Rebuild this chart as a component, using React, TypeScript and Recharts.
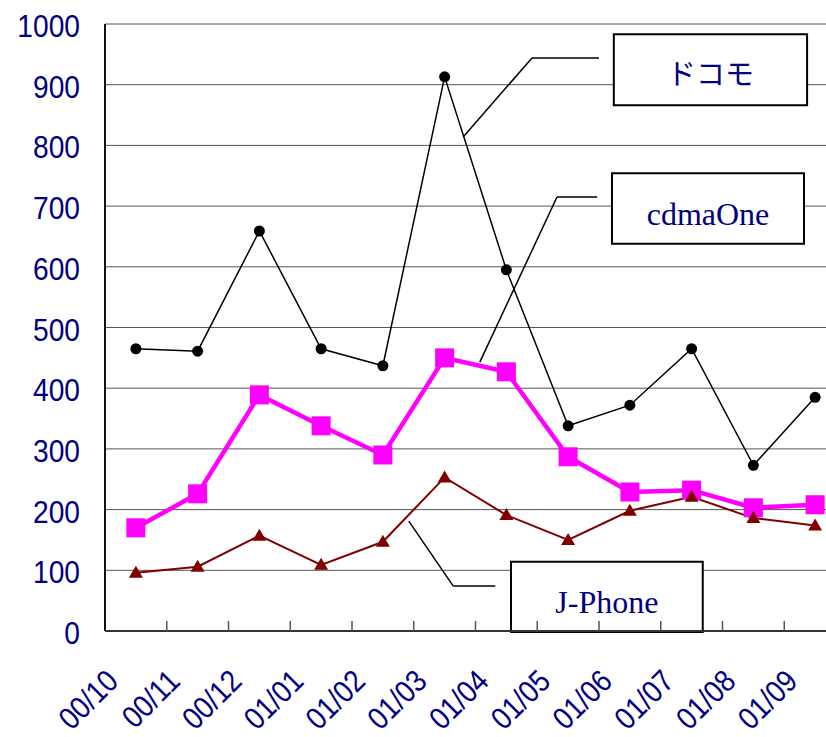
import React from "react";
import { CartesianGrid, Line, LineChart, ReferenceArea, ReferenceLine, XAxis, YAxis } from "recharts";

const months = ["00/10", "00/11", "00/12", "01/01", "01/02", "01/03", "01/04", "01/05", "01/06", "01/07", "01/08", "01/09"];
const docomo = [465, 461, 659, 465, 437, 913, 595, 338, 372, 465, 273, 385];
const cdmaOne = [170, 226, 389, 338, 290, 450, 427, 287, 229, 232, 203, 208];
const jphone = [96, 106, 157, 109, 147, 253, 191, 150, 198, 221, 186, 174];
const yTicks = [0, 100, 200, 300, 400, 500, 600, 700, 800, 900, 1000];

// one slot per month on a 0..12 number axis, points in the middle of each slot
const data = months.map((m, i) => ({ x: i + 0.5, month: m, docomo: docomo[i], cdmaOne: cdmaOne[i], jphone: jphone[i] }));
const edgeTicks = months.map((_, i) => i).concat(months.length);
const midTicks = data.map((d) => d.x);

// callout boxes + leader lines, in axis units
const callouts = [
  { text: "ドコモ", font: "'Noto Sans CJK JP', sans-serif", size: 29, box: [8.24, 11.37, 866, 983], leader: [[8.0, 944], [6.915, 944], [5.8, 814]] },
  { text: "cdmaOne", font: "'Liberation Serif', serif", size: 32, box: [8.21, 11.32, 638, 754], leader: [[7.97, 715], [7.32, 715], [6.07, 443]] },
  { text: "J-Phone", font: "'Liberation Serif', serif", size: 32, box: [6.575, 9.68, -1.5, 114], leader: [[6.32, 74], [5.64, 74], [4.92, 181]] },
];

const navy = "#000080";
const sans = "'Liberation Sans', Arial, sans-serif";

// the original font is a tall narrow gothic, so squeeze Arial a bit
const MonthTick = (p: any) => {
  const label = months[Math.floor(p.payload.value)];
  return (
    <g transform={`translate(${p.x - 16},${p.y + 52}) rotate(-45) scale(0.88,1)`}>
      <text textAnchor="end" fill={navy} fontSize={31} fontFamily={sans}>
        {label}
      </text>
    </g>
  );
};

const ValueTick = (p: any) => (
  <g transform={`translate(${p.x},${p.y + 13}) scale(0.88,1)`}>
    <text textAnchor="end" fill={navy} fontSize={32} fontFamily={sans}>
      {p.payload.value}
    </text>
  </g>
);

const NoLabel = () => <g />;

const Dot = (p: any) => <circle key={p.index} cx={p.cx} cy={p.cy} r={5.5} fill="#000" />;
const Square = (p: any) => <rect key={p.index} x={p.cx - 9.5} y={p.cy - 9.5} width={19} height={19} fill="#ff00ff" />;
const Tri = (p: any) => (
  <polygon key={p.index} points={`${p.cx},${p.cy - 7} ${p.cx + 7},${p.cy + 5} ${p.cx - 7},${p.cy + 5}`} fill="#800000" />
);

export default function App() {
  return (
    <div style={{ position: "absolute", left: 0, top: 0, width: 826, height: 737, overflow: "hidden", background: "#fff" }}>
      <LineChart width={860} height={737} data={data} margin={{ top: 24, right: 14, left: 0, bottom: 0 }}>
        <CartesianGrid vertical={false} stroke="#555" strokeWidth={1} />
        <XAxis
          xAxisId="m"
          type="number"
          dataKey="x"
          domain={[0, 12]}
          ticks={midTicks}
          interval={0}
          height={106}
          axisLine={false}
          tickLine={false}
          tickSize={0}
          tickMargin={0}
          tick={<MonthTick />}
        />
        <XAxis
          xAxisId="e"
          type="number"
          dataKey="x"
          domain={[0, 12]}
          ticks={edgeTicks}
          interval={0}
          mirror
          height={1}
          tick={<NoLabel />}
          tickSize={10}
          axisLine={{ stroke: "#333", strokeWidth: 2 }}
          tickLine={{ stroke: "#555", strokeWidth: 1.5 }}
        />
        <YAxis
          domain={[0, 1000]}
          ticks={yTicks}
          interval={0}
          width={105}
          tickSize={0}
          tickMargin={25}
          tickLine={false}
          axisLine={{ stroke: "#111", strokeWidth: 2 }}
          tick={<ValueTick />}
        />
        <YAxis
          yAxisId="t"
          domain={[0, 1000]}
          ticks={yTicks}
          interval={0}
          mirror
          width={1}
          tick={<NoLabel />}
          tickSize={10}
          axisLine={false}
          tickLine={{ stroke: "#222", strokeWidth: 1.5 }}
        />

        {callouts.map((c) => (
          <ReferenceArea
            key={c.text}
            xAxisId="m"
            x1={c.box[0]}
            x2={c.box[1]}
            y1={c.box[2]}
            y2={c.box[3]}
            ifOverflow="visible"
            fill="#fff"
            fillOpacity={1}
            stroke="#000"
            strokeWidth={2}
            label={{ value: c.text, position: "center", fill: navy, fontSize: c.size, fontFamily: c.font, dy: 5 }}
          />
        ))}
        {callouts.map((c) =>
          c.leader.slice(1).map((pt, i) => (
            <ReferenceLine
              key={c.text + i}
              xAxisId="m"
              segment={[
                { x: c.leader[i][0], y: c.leader[i][1] },
                { x: pt[0], y: pt[1] },
              ]}
              stroke="#000"
              strokeWidth={1.5}
            />
          ))
        )}

        <Line xAxisId="m" dataKey="docomo" stroke="#000" strokeWidth={1.5} dot={Dot} isAnimationActive={false} />
        <Line xAxisId="m" dataKey="cdmaOne" stroke="#ff00ff" strokeWidth={4.5} dot={Square} isAnimationActive={false} />
        <Line xAxisId="m" dataKey="jphone" stroke="#800000" strokeWidth={2} dot={Tri} isAnimationActive={false} />
      </LineChart>
    </div>
  );
}
